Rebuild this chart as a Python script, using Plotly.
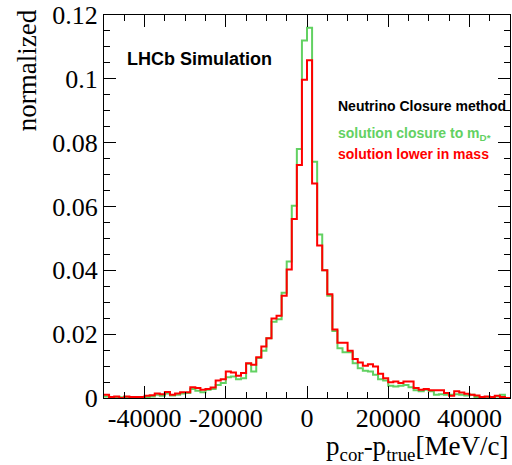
import numpy as np
import plotly.graph_objects as go

# ---- data (80 bins from -50000 to 50000 MeV/c) ----
x_low, x_high, n_bins = -50000, 50000, 80

green_vals = [
    0.0005, 0.0002, 0.0003, 0.0002, 0.0003, 0.0003, 0.0003, 0.0000, 0.0002, 0.0005,
    0.0010, 0.0007, 0.0014, 0.0008, 0.0010, 0.0014, 0.0016, 0.0028, 0.0023, 0.0018,
    0.0026, 0.0028, 0.0041, 0.0047, 0.0065, 0.0067, 0.0059, 0.0062, 0.0107, 0.0083,
    0.0125, 0.0148, 0.0187, 0.0239, 0.0247, 0.0330, 0.0428, 0.0602, 0.0780, 0.1120,
    0.1160, 0.0740, 0.0512, 0.0400, 0.0320, 0.0210, 0.0156, 0.0143, 0.0143, 0.0109,
    0.0093, 0.0085, 0.0083, 0.0073, 0.0059, 0.0055, 0.0038, 0.0036, 0.0038, 0.0041,
    0.0034, 0.0024, 0.0021, 0.0026, 0.0021, 0.0010, 0.0012, 0.0010, 0.0010, 0.0012,
    0.0010, 0.0008, 0.0010, 0.0003, 0.0002, 0.0003, 0.0000, 0.0005, 0.0010, 0.0000,
]

red_vals = [
    0.0010, 0.0003, 0.0005, 0.0000, 0.0005, 0.0003, 0.0003, 0.0003, 0.0007, 0.0009,
    0.0014, 0.0012, 0.0019, 0.0010, 0.0014, 0.0018, 0.0018, 0.0034, 0.0031, 0.0026,
    0.0028, 0.0033, 0.0055, 0.0059, 0.0083, 0.0080, 0.0070, 0.0078, 0.0109, 0.0104,
    0.0128, 0.0161, 0.0187, 0.0249, 0.0258, 0.0320, 0.0403, 0.0561, 0.0730, 0.0997,
    0.1058, 0.0672, 0.0478, 0.0400, 0.0325, 0.0215, 0.0173, 0.0173, 0.0148, 0.0122,
    0.0111, 0.0101, 0.0106, 0.0099, 0.0076, 0.0062, 0.0049, 0.0052, 0.0047, 0.0052,
    0.0052, 0.0031, 0.0026, 0.0028, 0.0024, 0.0024, 0.0024, 0.0016, 0.0007, 0.0021,
    0.0017, 0.0013, 0.0010, 0.0008, 0.0003, 0.0005, 0.0003, 0.0007, 0.0003, 0.0000,
]

x_tick_vals = [-40000, -20000, 0, 20000, 40000]
x_tick_text = ["-40000", "-20000", "0", "20000", "40000"]
y_tick_vals = [0, 0.02, 0.04, 0.06, 0.08, 0.1, 0.12]
y_tick_text = ["0", "0.02", "0.04", "0.06", "0.08", "0.1", "0.12"]

green_name = "solution closure to m<sub>D*</sub>"
red_name = "solution lower in mass"
legend_title = "Neutrino Closure method"
label_text = "LHCb Simulation"
x_title = "p<sub>cor</sub>-p<sub>true</sub>[MeV/c]"
y_title = "normalized"

GREEN = "#62d162"
RED = "#ff0000"
SERIF = "Liberation Serif"
SANS = "Liberation Sans"

edges = np.linspace(x_low, x_high, n_bins + 1)


def step(vals):
    y = list(vals) + [vals[-1]]
    return edges, y


fig = go.Figure()
for vals, col, name in [(green_vals, GREEN, green_name), (red_vals, RED, red_name)]:
    xs, ys = step(vals)
    fig.add_trace(go.Scatter(x=xs, y=ys, mode="lines", line=dict(color=col, width=2, shape="hv"),
                             name=name, showlegend=False, hoverinfo="skip"))

axis_common = dict(
    showline=True, linecolor="black", linewidth=1, mirror="allticks",
    ticks="inside", ticklen=12, tickwidth=1, tickcolor="black",
    showgrid=False, zeroline=False, ticklabeloverflow="allow",
    tickfont=dict(family=SERIF, size=26, color="black"),
)

fig.update_xaxes(range=[x_low, x_high], tickvals=x_tick_vals, ticktext=x_tick_text,
                 ticklabelstandoff=-3,
                 minor=dict(dtick=5000, tick0=0, ticks="inside", ticklen=6, tickcolor="black", tickwidth=1, showgrid=False),
                 **axis_common)
fig.update_yaxes(range=[0, 0.12], tickvals=y_tick_vals, ticktext=y_tick_text,
                 minor=dict(dtick=0.005, tick0=0, ticks="inside", ticklen=6, tickcolor="black", tickwidth=1, showgrid=False),
                 **axis_common)

ann = []
ann.append(dict(text=label_text, x=0.0515, y=0.886, xref="paper", yref="paper", xanchor="left", yanchor="middle",
                showarrow=False, font=dict(family=SANS, size=18, color="black", weight="bold")))
ann.append(dict(text=legend_title, x=0.571, y=0.762, xref="paper", yref="paper", xanchor="left", yanchor="middle",
                showarrow=False, font=dict(family=SANS, size=14, color="black", weight="bold")))
ann.append(dict(text=green_name, x=0.571, y=0.689, xref="paper", yref="paper", xanchor="left", yanchor="middle",
                showarrow=False, font=dict(family=SANS, size=14, color=GREEN, weight="bold")))
ann.append(dict(text=red_name, x=0.571, y=0.637, xref="paper", yref="paper", xanchor="left", yanchor="middle",
                showarrow=False, font=dict(family=SANS, size=14, color=RED, weight="bold")))
ann.append(dict(text=y_title, x=-0.19, y=1.02, xref="paper", yref="paper", xanchor="center", yanchor="top",
                textangle=-90, showarrow=False, font=dict(family=SERIF, size=27, color="black")))
ann.append(dict(text=x_title, x=1.0, y=-0.179, xref="paper", yref="paper", xanchor="right", yanchor="bottom",
                showarrow=False, font=dict(family=SERIF, size=27, color="black")))

fig.update_layout(
    width=512, height=465,
    margin=dict(l=104, r=1, t=13, b=67),
    plot_bgcolor="white", paper_bgcolor="white",
    annotations=ann, showlegend=False,
)

fig.write_html("out.html")
